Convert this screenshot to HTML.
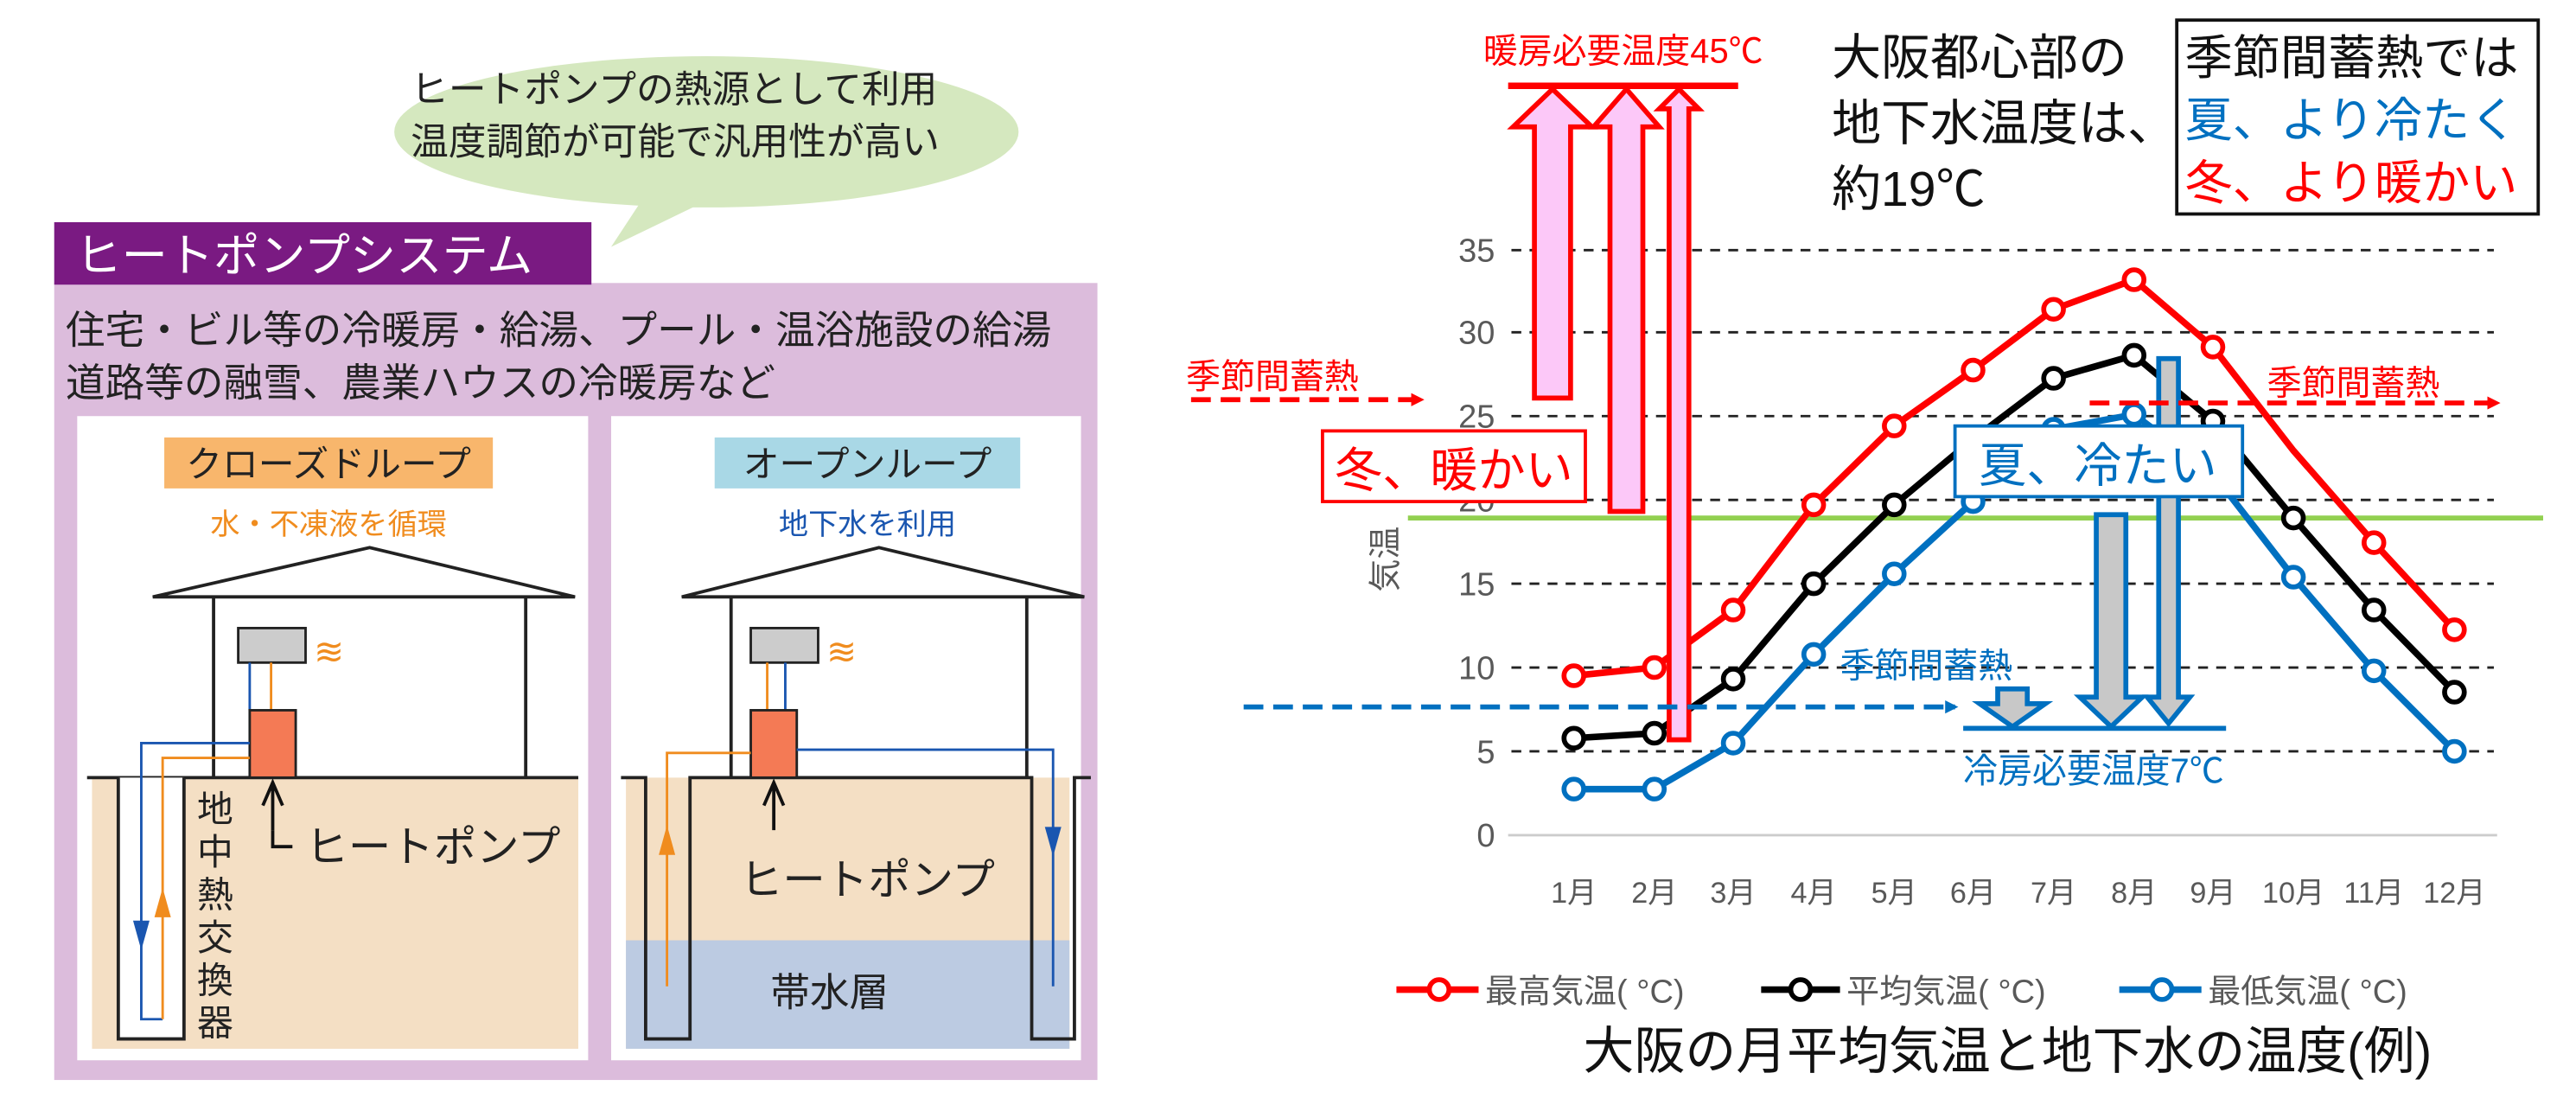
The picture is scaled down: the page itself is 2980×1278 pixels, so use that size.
<!DOCTYPE html>
<html><head><meta charset="utf-8"><style>
html,body{margin:0;padding:0;background:#fff;}
svg{display:block;font-family:"Liberation Sans","Noto Sans CJK JP",sans-serif;}
</style></head><body>
<svg width="2980" height="1278" viewBox="0 0 1568 672" xmlns="http://www.w3.org/2000/svg">
<defs>
<marker id="ar" markerWidth="8" markerHeight="8" refX="6" refY="4" orient="auto" markerUnits="userSpaceOnUse"><path d="M0,0 L8,4 L0,8z" fill="#f00"/></marker>
<marker id="ab" markerWidth="8" markerHeight="8" refX="6" refY="4" orient="auto" markerUnits="userSpaceOnUse"><path d="M0,0 L8,4 L0,8z" fill="#0070c0"/></marker>
</defs>
<!-- LEFT PANEL -->
<ellipse cx="430" cy="80" rx="190" ry="46" fill="#d5e8bf"/>
<path d="M395,115 L372,150 L430,122z" fill="#d5e8bf"/>
<text x="250" y="62" font-size="23" fill="#222">ヒートポンプの熱源として利用</text>
<text x="250" y="94" font-size="23" fill="#222">温度調節が可能で汎用性が高い</text>
<rect x="33" y="172" width="635" height="485" fill="#dcbcdc"/>
<rect x="33" y="135" width="327" height="38" fill="#7a1a82"/>
<text x="46" y="165" font-size="28" fill="#fff">ヒートポンプシステム</text>
<text x="40" y="209" font-size="24" fill="#222">住宅・ビル等の冷暖房・給湯、プール・温浴施設の給湯</text>
<text x="40" y="241" font-size="24" fill="#222">道路等の融雪、農業ハウスの冷暖房など</text>
<rect x="47" y="253" width="311" height="392" fill="#fff"/>
<rect x="372" y="253" width="286" height="392" fill="#fff"/>
<!-- closed loop -->
<rect x="100" y="266" width="200" height="31" fill="#f8b66c"/>
<text x="200" y="290" font-size="22" text-anchor="middle" fill="#222">クローズドループ</text>
<text x="200" y="325" font-size="18" text-anchor="middle" fill="#f08c1e">水・不凍液を循環</text>
<path d="M93,363 L225,333 L350,363z" fill="#fff" stroke="#222" stroke-width="2"/>
<rect x="56" y="473" width="296" height="165" fill="#f4dfc4"/>
<path d="M130,363 V473 M320,363 V473" stroke="#222" stroke-width="2"/>
<line x1="53" y1="473" x2="352" y2="473" stroke="#222" stroke-width="2"/>
<path d="M72,473 V632 H112 V473" fill="#fff" stroke="#222" stroke-width="2"/>
<rect x="145" y="382" width="41" height="21" fill="#ccc" stroke="#222" stroke-width="1.5"/>
<text x="191" y="404" font-size="22" fill="#f08c1e">≋</text>
<path d="M152,403 V432" stroke="#1a56b0" stroke-width="1.5"/>
<path d="M165,403 V432" stroke="#f08c1e" stroke-width="1.5"/>
<rect x="152" y="432" width="28" height="41" fill="#f47a55" stroke="#222" stroke-width="1.5"/>
<path d="M152,452 H86 V620 H99" fill="none" stroke="#1a56b0" stroke-width="1.5"/>
<path d="M152,461 H99 V620" fill="none" stroke="#f08c1e" stroke-width="1.5"/>
<path d="M81,560 L86,578 L91,560z" fill="#1a56b0"/><path d="M94,558 L99,540 L104,558z" fill="#f08c1e"/>
<path d="M166,505 V478 M160,490 L166,476 L172,490" fill="none" stroke="#111" stroke-width="2"/>
<path d="M166,505 V515 H178" fill="none" stroke="#111" stroke-width="2"/>
<text x="186" y="524" font-size="26" fill="#222">ヒートポンプ</text>
<text font-size="22" fill="#222"><tspan x="120" y="500">地</tspan><tspan x="120" y="526">中</tspan><tspan x="120" y="552">熱</tspan><tspan x="120" y="578">交</tspan><tspan x="120" y="604">換</tspan><tspan x="120" y="630">器</tspan></text>
<!-- open loop -->
<rect x="435" y="266" width="186" height="31" fill="#a9d8e6"/>
<text x="528" y="290" font-size="22" text-anchor="middle" fill="#222">オープンループ</text>
<text x="528" y="325" font-size="18" text-anchor="middle" fill="#1a56b0">地下水を利用</text>
<path d="M415,363 L535,333 L660,363z" fill="#fff" stroke="#222" stroke-width="2"/>
<rect x="381" y="473" width="270" height="165" fill="#f4dfc4"/>
<rect x="381" y="572" width="270" height="66" fill="#bccbe2"/>
<path d="M445,363 V473 M625,363 V473" stroke="#222" stroke-width="2"/>
<path d="M378,473 H393 V632 H420 V473 H628 V632 H654 V473 H664" fill="none" stroke="#222" stroke-width="2"/>
<rect x="457" y="382" width="41" height="21" fill="#ccc" stroke="#222" stroke-width="1.5"/>
<text x="503" y="404" font-size="22" fill="#f08c1e">≋</text>
<path d="M467,403 V432" stroke="#f08c1e" stroke-width="1.5"/><path d="M478,403 V432" stroke="#1a56b0" stroke-width="1.5"/>
<rect x="457" y="432" width="28" height="41" fill="#f47a55" stroke="#222" stroke-width="1.5"/>
<path d="M457,458 H406 V600" fill="none" stroke="#f08c1e" stroke-width="1.5"/>
<path d="M485,456 H641 V600" fill="none" stroke="#1a56b0" stroke-width="1.5"/>
<path d="M401,520 L406,502 L411,520z" fill="#f08c1e"/><path d="M636,503 L641,521 L646,503z" fill="#1a56b0"/>
<path d="M471,505 V478 M465,490 L471,476 L477,490" fill="none" stroke="#111" stroke-width="2"/>
<text x="528" y="544" font-size="26" text-anchor="middle" fill="#222">ヒートポンプ</text>
<text x="505" y="612" font-size="24" text-anchor="middle" fill="#222">帯水層</text>

<!-- CHART -->
<g stroke="#222" stroke-width="1.5" stroke-dasharray="6,5">
<line x1="920" y1="152" x2="1518" y2="152"/><line x1="920" y1="202" x2="1518" y2="202"/>
<line x1="920" y1="253" x2="1518" y2="253"/><line x1="920" y1="304" x2="1518" y2="304"/>
<line x1="920" y1="355" x2="1518" y2="355"/><line x1="920" y1="406" x2="1518" y2="406"/>
<line x1="920" y1="457" x2="1518" y2="457"/>
</g>
<line x1="918" y1="508" x2="1520" y2="508" stroke="#ccc" stroke-width="1.5"/>
<g font-size="20" fill="#595959" text-anchor="end">
<text x="910" y="159">35</text><text x="910" y="209">30</text><text x="910" y="260">25</text><text x="910" y="311">20</text>
<text x="910" y="362">15</text><text x="910" y="413">10</text><text x="910" y="464">5</text><text x="910" y="515">0</text>
</g>
<text transform="translate(850,340) rotate(-90)" font-size="20" fill="#595959" text-anchor="middle">気温</text>
<g font-size="18" fill="#595959" text-anchor="middle">
<text x="958" y="549">1月</text><text x="1007" y="549">2月</text><text x="1055" y="549">3月</text><text x="1104" y="549">4月</text>
<text x="1153" y="549">5月</text><text x="1201" y="549">6月</text><text x="1250" y="549">7月</text><text x="1299" y="549">8月</text>
<text x="1347" y="549">9月</text><text x="1396" y="549">10月</text><text x="1445" y="549">11月</text><text x="1494" y="549">12月</text>
</g>
<line x1="857" y1="315" x2="1548" y2="315" stroke="#92d050" stroke-width="3"/>
<g fill="none" stroke-width="4">
<polyline stroke="#f00" points="958,411 1007,406 1055,371 1104,307 1153,259 1201,225 1250,188 1299,170 1347,211 1396,274 1445,330 1494,383"/>
<polyline stroke="#000" points="958,449 1007,446 1055,413 1104,355 1153,307 1201,267 1250,230 1299,216 1347,256 1396,315 1445,371 1494,421"/>
<polyline stroke="#0070c0" points="958,480 1007,480 1055,452 1104,398 1153,349 1201,305 1250,261 1299,252 1347,288 1396,351 1445,408 1494,457"/>
</g>
<g fill="#fff" stroke-width="3">
<g stroke="#f00"><circle cx="958" cy="411" r="6"/><circle cx="1007" cy="406" r="6"/><circle cx="1055" cy="371" r="6"/><circle cx="1104" cy="307" r="6"/><circle cx="1153" cy="259" r="6"/><circle cx="1201" cy="225" r="6"/><circle cx="1250" cy="188" r="6"/><circle cx="1299" cy="170" r="6"/><circle cx="1347" cy="211" r="6"/><circle cx="1445" cy="330" r="6"/><circle cx="1494" cy="383" r="6"/></g>
<g stroke="#000"><circle cx="958" cy="449" r="6"/><circle cx="1007" cy="446" r="6"/><circle cx="1055" cy="413" r="6"/><circle cx="1104" cy="355" r="6"/><circle cx="1153" cy="307" r="6"/><circle cx="1201" cy="267" r="6"/><circle cx="1250" cy="230" r="6"/><circle cx="1299" cy="216" r="6"/><circle cx="1347" cy="256" r="6"/><circle cx="1396" cy="315" r="6"/><circle cx="1445" cy="371" r="6"/><circle cx="1494" cy="421" r="6"/></g>
<g stroke="#0070c0"><circle cx="958" cy="480" r="6"/><circle cx="1007" cy="480" r="6"/><circle cx="1055" cy="452" r="6"/><circle cx="1104" cy="398" r="6"/><circle cx="1153" cy="349" r="6"/><circle cx="1201" cy="305" r="6"/><circle cx="1250" cy="261" r="6"/><circle cx="1299" cy="252" r="6"/><circle cx="1347" cy="288" r="6"/><circle cx="1396" cy="351" r="6"/><circle cx="1445" cy="408" r="6"/><circle cx="1494" cy="457" r="6"/></g>
</g>
<!-- pink arrows -->
<text x="988" y="38" font-size="21" fill="#f00" text-anchor="middle">暖房必要温度45℃</text>
<line x1="918" y1="52" x2="1058" y2="52" stroke="#f00" stroke-width="4"/>
<g fill="#fcc8f8" stroke="#f00" stroke-width="3">
<path d="M934,242 V77 H921 L945,54 L969,77 H956 V242z"/>
<path d="M980,311 V77 H970 L990,54 L1010,77 H1000 V311z"/>
<path d="M1016,450 V66 H1010 L1022,54 L1034,66 H1028 V450z"/>
</g>
<!-- gray arrows -->
<g fill="#c8c8c8" stroke="#0070c0" stroke-width="3">
<path d="M1276,313 V424 H1266 L1285,442 L1304,424 H1294 V313z"/>
<path d="M1314,218 V424 H1307 L1320,440 L1333,424 H1326 V218z"/>
<path d="M1216,419 V428 H1205 L1225,442 L1245,428 H1234 V419z"/>
</g>
<line x1="1195" y1="443" x2="1355" y2="443" stroke="#0070c0" stroke-width="3"/>
<line x1="757" y1="430" x2="1190" y2="430" stroke="#0070c0" stroke-width="3" stroke-dasharray="12,6" marker-end="url(#ab)"/>
<text x="1120" y="412" font-size="21" fill="#0070c0">季節間蓄熱</text>
<text x="1195" y="476" font-size="21" fill="#0070c0">冷房必要温度7℃</text>
<line x1="725" y1="243" x2="865" y2="243" stroke="#f00" stroke-width="3" stroke-dasharray="12,6" marker-end="url(#ar)"/>
<text x="722" y="236" font-size="21" fill="#f00">季節間蓄熱</text>
<line x1="1272" y1="245" x2="1520" y2="245" stroke="#f00" stroke-width="3" stroke-dasharray="12,6" marker-end="url(#ar)"/>
<text x="1380" y="240" font-size="21" fill="#f00">季節間蓄熱</text>
<rect x="805" y="262" width="160" height="43" fill="#fff" stroke="#f00" stroke-width="2"/>
<text x="885" y="296" font-size="29" fill="#f00" text-anchor="middle">冬、暖かい</text>
<rect x="1190" y="259" width="175" height="43" fill="#fff" stroke="#0070c0" stroke-width="2"/>
<text x="1277" y="293" font-size="29" fill="#0070c0" text-anchor="middle">夏、冷たい</text>
<text font-size="30" fill="#111"><tspan x="1115" y="45">大阪都心部の</tspan><tspan x="1115" y="85">地下水温度は、</tspan><tspan x="1115" y="125">約19℃</tspan></text>
<rect x="1325" y="12" width="220" height="118" fill="#fff" stroke="#111" stroke-width="2"/>
<text font-size="29"><tspan x="1330" y="45" fill="#111">季節間蓄熱では</tspan><tspan x="1330" y="83" fill="#0070c0">夏、より冷たく</tspan><tspan x="1330" y="121" fill="#f00">冬、より暖かい</tspan></text>
<!-- legend -->
<g stroke-width="4" fill="#fff">
<line x1="850" y1="602" x2="900" y2="602" stroke="#f00"/><circle cx="876" cy="602" r="6" stroke="#f00" stroke-width="3"/>
<line x1="1072" y1="602" x2="1120" y2="602" stroke="#000"/><circle cx="1096" cy="602" r="6" stroke="#000" stroke-width="3"/>
<line x1="1290" y1="602" x2="1340" y2="602" stroke="#0070c0"/><circle cx="1316" cy="602" r="6" stroke="#0070c0" stroke-width="3"/>
</g>
<g font-size="20" fill="#595959">
<text x="904" y="610">最高気温( °C)</text><text x="1124" y="610">平均気温( °C)</text><text x="1344" y="610">最低気温( °C)</text>
</g>
<text x="1222" y="650" font-size="31" fill="#111" text-anchor="middle">大阪の月平均気温と地下水の温度(例)</text>
</svg>
</body></html>
